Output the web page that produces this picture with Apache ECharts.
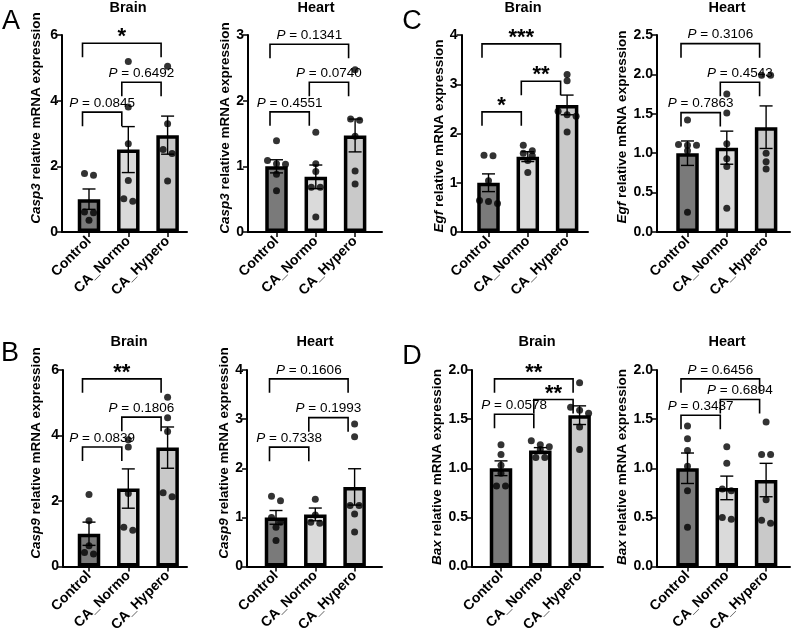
<!DOCTYPE html>
<html>
<head>
<meta charset="utf-8">
<script src="https://cdn.jsdelivr.net/npm/echarts@6/dist/echarts.min.js"></script>
<style>
  html, body { margin: 0; padding: 0; background: #fff; }
  #chart { width: 794px; height: 641px; }
</style>
</head>
<body>
<div id="chart"></div>
<script>
const FONT = '"Liberation Sans", Arial, Helvetica, sans-serif';

const groups = ['Control', 'CA_Normo', 'CA_Hypero'];
const barColors = ['#7a7a7a', '#dadada', '#c9c9c9'];

// A - Casp3
const casp3BrainMean = [1.0, 2.51, 2.95];
const casp3BrainSem = [0.31, 0.70, 0.58];
const casp3BrainDots = [[1.78, 1.73, 0.61, 0.59, 0.36], [5.19, 3.81, 2.69, 1.57, 0.94, 1.01], [5.05, 3.30, 2.51, 2.39, 1.55]];
const casp3BrainSig = ['P = 0.0845', 'P = 0.6492', '*'];

const casp3HeartMean = [1.0, 0.84, 1.47];
const casp3HeartSem = [0.10, 0.18, 0.25];
const casp3HeartDots = [[1.39, 1.09, 1.03, 1.04, 0.88, 0.63], [1.52, 1.04, 0.92, 0.68, 0.68, 0.23], [2.47, 1.72, 1.70, 1.46, 0.93, 0.73]];
const casp3HeartSig = ['P = 0.4551', 'P = 0.0740', 'P = 0.1341'];

// C - Egf
const egfBrainMean = [1.0, 1.53, 2.58];
const egfBrainSem = [0.18, 0.10, 0.20];
const egfBrainDots = [[1.56, 1.55, 1.04, 0.64, 0.62, 0.58], [1.76, 1.65, 1.60, 1.55, 1.45, 1.21], [3.20, 3.07, 2.45, 2.38, 2.35, 2.03]];
const egfBrainSig = ['*', '**', '***'];

const egfHeartMean = [1.0, 1.07, 1.33];
const egfHeartSem = [0.155, 0.21, 0.27];
const egfHeartDots = [[1.42, 1.11, 1.10, 1.10, 1.03, 0.25], [1.75, 1.51, 1.12, 0.93, 0.83, 0.30], [1.99, 1.99, 1.00, 0.89, 0.80]];
const egfHeartSig = ['P = 0.7863', 'P = 0.4543', 'P = 0.3106'];

// B - Casp9
const casp9BrainMean = [1.0, 2.38, 3.63];
const casp9BrainSem = [0.355, 0.60, 0.63];
const casp9BrainDots = [[2.20, 1.40, 0.63, 0.38, 0.43], [3.87, 3.65, 2.23, 1.11, 1.20], [5.17, 4.54, 4.12, 2.13, 2.25]];
const casp9BrainSig = ['P = 0.0839', 'P = 0.1806', '**'];

const casp9HeartMean = [1.0, 1.06, 1.62];
const casp9HeartSem = [0.14, 0.13, 0.37];
const casp9HeartDots = [[1.34, 1.43, 1.00, 0.90, 0.80, 0.53], [1.37, 1.05, 0.88, 0.90], [2.90, 2.64, 1.24, 1.24, 1.07, 0.70]];
const casp9HeartSig = ['P = 0.7338', 'P = 0.1993', 'P = 0.1606'];

// D - Bax
const baxBrainMean = [1.0, 1.18, 1.54];
const baxBrainSem = [0.075, 0.03, 0.095];
const baxBrainDots = [[1.24, 1.14, 1.03, 0.95, 0.82, 0.82], [1.28, 1.24, 1.22, 1.19, 1.11, 1.11], [1.87, 1.62, 1.59, 1.56, 1.42, 1.19]];
const baxBrainSig = ['P = 0.0578', '**', '**'];

const baxHeartMean = [1.0, 0.80, 0.88];
const baxHeartSem = [0.155, 0.12, 0.17];
const baxHeartDots = [[1.43, 1.30, 1.18, 1.02, 0.77, 0.40], [1.22, 1.05, 0.77, 0.79, 0.48, 0.50], [1.47, 1.14, 1.14, 0.68, 0.44, 0.47]];
const baxHeartSig = ['P = 0.3437', 'P = 0.6894', 'P = 0.6456'];

// pairs compared by the brackets: Control-Normo, Normo-Hypero, Control-Hypero
const pairs = [[0, 1], [1, 2], [0, 2]];

// layout (pixels) for each small plot
const SPACING = 39.3;
const panels = [
  { gene: 'Casp3', tissue: 'Brain', mean: casp3BrainMean, sem: casp3BrainSem, dots: casp3BrainDots, sig: casp3BrainSig,
    yMax: 6, yStep: 2, dec: 0, axisX: 62, c0: 89, xEnd: 187, top: 35, bottom: 232, nameGap: 19, nameMid: 118,
    title: [128, 8], brackets: [3.65, 4.56, 5.75] },
  { gene: 'Casp3', tissue: 'Heart', mean: casp3HeartMean, sem: casp3HeartSem, dots: casp3HeartDots, sig: casp3HeartSig,
    yMax: 3, yStep: 1, dec: 0, axisX: 248, c0: 276.5, xEnd: 382, top: 35, bottom: 232, nameGap: 16, nameMid: 128,
    title: [316, 8], brackets: [1.83, 2.28, 2.86] },
  { gene: 'Egf', tissue: 'Brain', mean: egfBrainMean, sem: egfBrainSem, dots: egfBrainDots, sig: egfBrainSig,
    yMax: 4, yStep: 1, dec: 0, axisX: 461.5, c0: 488.5, xEnd: 588, top: 35, bottom: 232, nameGap: 7, nameMid: 136,
    title: [523, 8], brackets: [2.44, 3.06, 3.82] },
  { gene: 'Egf', tissue: 'Heart', mean: egfHeartMean, sem: egfHeartSem, dots: egfHeartDots, sig: egfHeartSig,
    yMax: 2.5, yStep: 0.5, dec: 1, axisX: 657, c0: 687.5, xEnd: 790, top: 35, bottom: 232, nameGap: 16, nameMid: 127,
    title: [727, 8], brackets: [1.515, 1.90, 2.39] },
  { gene: 'Casp9', tissue: 'Brain', mean: casp9BrainMean, sem: casp9BrainSem, dots: casp9BrainDots, sig: casp9BrainSig,
    yMax: 6, yStep: 2, dec: 0, axisX: 63, c0: 89, xEnd: 187, top: 370, bottom: 566.5, nameGap: 20, nameMid: 453,
    title: [129, 342], brackets: [3.65, 4.56, 5.73] },
  { gene: 'Casp9', tissue: 'Heart', mean: casp9HeartMean, sem: casp9HeartSem, dots: casp9HeartDots, sig: casp9HeartSig,
    yMax: 4, yStep: 1, dec: 0, axisX: 247, c0: 276, xEnd: 382, top: 370, bottom: 566.5, nameGap: 15, nameMid: 453,
    title: [315, 342], brackets: [2.43, 3.03, 3.82] },
  { gene: 'Bax', tissue: 'Brain', mean: baxBrainMean, sem: baxBrainSem, dots: baxBrainDots, sig: baxBrainSig,
    yMax: 2, yStep: 0.5, dec: 1, axisX: 472, c0: 501, xEnd: 603, top: 370, bottom: 566.5, nameGap: 26, nameMid: 467,
    title: [537, 342], brackets: [1.55, 1.70, 1.91] },
  { gene: 'Bax', tissue: 'Heart', mean: baxHeartMean, sem: baxHeartSem, dots: baxHeartDots, sig: baxHeartSig,
    yMax: 2, yStep: 0.5, dec: 1, axisX: 657, c0: 687.5, xEnd: 790, top: 370, bottom: 566.5, nameGap: 26, nameMid: 467,
    title: [727, 342], brackets: [1.54, 1.70, 1.91] }
];

const letters = [['A', 11, 22], ['C', 412, 22], ['B', 10, 354], ['D', 412, 357]];

// spread dots sitting at nearly the same height (simple beeswarm)
function swarm(vals, idx, pxPerUnit) {
  const sorted = vals.slice().sort((a, b) => b - a);
  const rows = [];
  sorted.forEach(v => {
    const last = rows[rows.length - 1];
    if (last && (last[0] - v) * pxPerUnit < 6) last.push(v);
    else rows.push([v]);
  });
  const out = [];
  rows.forEach(row => {
    row.forEach((v, k) => {
      const dx = (k - (row.length - 1) / 2) * 9 / SPACING;
      out.push([idx + dx, v]);
    });
  });
  return out;
}

const grid = [], xAxis = [], yAxis = [], series = [], graphic = [];

panels.forEach((p, k) => {
  grid.push({ left: p.axisX, top: p.top, width: p.xEnd - p.axisX, height: p.bottom - p.top });

  xAxis.push({
    gridIndex: k, type: 'value',
    min: (p.axisX - p.c0) / SPACING, max: (p.xEnd - p.c0) / SPACING,
    splitLine: { show: false },
    axisLine: { show: true, lineStyle: { color: '#000', width: 2 } },
    axisTick: { show: true, customValues: [0, 1, 2], length: 5, lineStyle: { color: '#000', width: 1.5 } },
    axisLabel: {
      customValues: [0, 1, 2], formatter: v => groups[Math.round(v)],
      rotate: 45, margin: 7, color: '#000', fontWeight: 'bold', fontSize: 14, fontFamily: FONT
    }
  });

  // shift the rotated name along the axis so its centre sits at nameMid
  const shift = (p.top + p.bottom) / 2 - p.nameMid;
  yAxis.push({
    gridIndex: k, type: 'value', min: 0, max: p.yMax, interval: p.yStep,
    splitLine: { show: false },
    axisLine: { show: true, onZero: false, lineStyle: { color: '#000', width: 2 } },
    axisTick: { show: true, length: 5, lineStyle: { color: '#000', width: 1.5 } },
    axisLabel: { color: '#000', fontWeight: 'bold', fontSize: 14, fontFamily: FONT, margin: 4,
      formatter: v => v.toFixed(p.dec) },
    name: '{i|' + p.gene + '} relative mRNA expression',
    nameLocation: 'middle', nameGap: p.nameGap,
    nameTextStyle: {
      color: '#000', fontWeight: 'bold', fontSize: 13.5, fontFamily: FONT,
      padding: shift >= 0 ? [0, 0, 0, 2 * shift] : [0, -2 * shift, 0, 0],
      rich: { i: { fontStyle: 'italic', fontWeight: 'bold', fontSize: 13.5, fontFamily: FONT, color: '#000' } }
    }
  });

  series.push({
    type: 'bar', xAxisIndex: k, yAxisIndex: k, barWidth: 22.5, z: 2,
    data: p.mean.map((v, i) => ({ value: [i, v], itemStyle: { color: barColors[i] } })),
    itemStyle: { borderColor: '#000', borderWidth: 3.5 }
  });

  series.push({
    type: 'custom', xAxisIndex: k, yAxisIndex: k, z: 3,
    data: p.mean.map((v, i) => [i, v - p.sem[i], v + p.sem[i]]),
    renderItem: (params, api) => {
      const lo = api.coord([api.value(0), api.value(1)]);
      const hi = api.coord([api.value(0), api.value(2)]);
      const w = 6.5;
      const st = { stroke: '#000', lineWidth: 1.4 };
      return { type: 'group', children: [
        { type: 'line', shape: { x1: lo[0], y1: lo[1], x2: hi[0], y2: hi[1] }, style: st },
        { type: 'line', shape: { x1: hi[0] - w, y1: hi[1], x2: hi[0] + w, y2: hi[1] }, style: st },
        { type: 'line', shape: { x1: lo[0] - w, y1: lo[1], x2: lo[0] + w, y2: lo[1] }, style: st }
      ] };
    }
  });

  const pxPerUnit = (p.bottom - p.top) / p.yMax;
  let dotData = [];
  p.dots.forEach((vals, i) => { dotData = dotData.concat(swarm(vals, i, pxPerUnit)); });
  series.push({
    type: 'scatter', xAxisIndex: k, yAxisIndex: k, z: 5,
    symbolSize: 7, itemStyle: { color: '#000' }, data: dotData
  });

  series.push({
    type: 'custom', xAxisIndex: k, yAxisIndex: k, z: 4, clip: false,
    data: pairs.map((pr, j) => [pr[0], pr[1], p.brackets[j]]),
    renderItem: (params, api) => {
      const a = api.coord([api.value(0), api.value(2)]);
      const b = api.coord([api.value(1), api.value(2)]);
      const shiftX = -6.5, leg = 14;
      const x1 = a[0] + shiftX, x2 = b[0] + shiftX, y = a[1];
      const label = p.sig[params.dataIndex];
      const isStar = label.indexOf('P') !== 0;
      const text = isStar
        ? { type: 'text', x: (x1 + x2) / 2, y: y + 5,
            style: { text: label, align: 'center', verticalAlign: 'bottom', fill: '#000',
              font: 'bold 22px ' + FONT } }
        : { type: 'text', x: (x1 + x2) / 2, y: y - 2,
            style: { text: '{i|P}' + label.slice(1), align: 'center', verticalAlign: 'bottom', fill: '#000',
              font: '13.5px ' + FONT,
              rich: { i: { fontStyle: 'italic', fontSize: 13.5, fontFamily: FONT, fill: '#000' } } } };
      return { type: 'group', children: [
        { type: 'polyline', shape: { points: [[x1, y + leg], [x1, y], [x2, y], [x2, y + leg]] },
          style: { stroke: '#000', lineWidth: 1.6, fill: null } },
        text
      ] };
    }
  });

  graphic.push({ type: 'text', x: p.title[0], y: p.title[1],
    style: { text: p.tissue, align: 'center', verticalAlign: 'middle', fill: '#000', font: 'bold 14.5px ' + FONT } });
});

letters.forEach(l => {
  graphic.push({ type: 'text', x: l[1], y: l[2],
    style: { text: l[0], align: 'center', verticalAlign: 'middle', fill: '#000', font: '27px ' + FONT } });
});

const chart = echarts.init(document.getElementById('chart'), null, { renderer: 'canvas' });
chart.setOption({
  animation: false,
  backgroundColor: '#fff',
  grid, xAxis, yAxis, series, graphic
});
</script>
</body>
</html>
